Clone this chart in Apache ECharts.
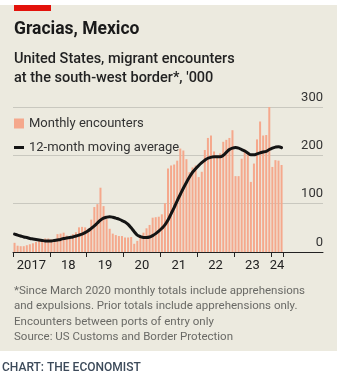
<!DOCTYPE html>
<html><head><meta charset="utf-8">
<script src="https://cdn.jsdelivr.net/npm/echarts@6/dist/echarts.min.js"></script>
<style>html,body{margin:0;padding:0;background:#fff}#c{width:340px;height:380px}</style>
</head><body><div id="c"></div>
<script>
// Year labels and their positions (in months from Jan 2017)
const yearLabels = ['2017', '18', '19', '20', '21', '22', '23', '24'];
const yearLabelPos = [6, 18, 30, 42, 54, 66, 78, 86];
const yearTickPos = [0, 12, 24, 36, 48, 60, 72, 84, 88];
const yTickValues = [0, 100, 200, 300];

// Monthly encounters, '000 (Jan 2017 - Apr 2024)
const enc2017 = [19, 13, 12, 12, 14, 16, 18, 21, 24, 26, 28, 28];
const enc2018 = [26, 27, 37, 38, 40, 34, 31, 37, 41, 51, 52, 51];
const enc2019 = [48, 67, 93, 99, 133, 95, 68, 48, 38, 35, 33, 33];
const enc2020 = [30, 30, 31, 17, 23, 31, 40, 49, 56, 71, 72, 73];
const enc2021 = [78, 101, 173, 179, 181, 189, 214, 210, 192, 165, 175, 179];
const enc2022 = [155, 166, 211, 236, 241, 208, 200, 204, 228, 232, 236, 252];
const enc2023 = [157, 157, 193, 212, 207, 145, 183, 233, 270, 241, 242, 302];
const enc2024 = [176, 190, 189, 180];

// 12-month moving average, '000
const avg2017 = [37, 35, 33, 31, 30, 28, 27, 26, 25, 24, 23, 23];
const avg2018 = [23, 24, 25, 26, 28, 29, 30, 31, 33, 35, 37, 40];
const avg2019 = [44, 49, 54, 60, 66, 70, 72, 73, 72, 70, 68, 65];
const avg2020 = [62, 57, 50, 42, 35, 32, 30, 30, 31, 34, 38, 43];
const avg2021 = [49, 56, 66, 79, 92, 106, 119, 132, 144, 155, 165, 172];
const avg2022 = [179, 185, 190, 194, 196, 197, 197, 197, 200, 206, 212, 215];
const avg2023 = [216, 215, 212, 209, 205, 201, 201, 203, 205, 207, 208, 212];
const avg2024 = [215, 217, 218, 216];

const monthly = [].concat(enc2017, enc2018, enc2019, enc2020, enc2021, enc2022, enc2023, enc2024);
const movingAvg = [].concat(avg2017, avg2018, avg2019, avg2020, avg2021, avg2022, avg2023, avg2024);

const FONT = 'Roboto, "Liberation Sans", sans-serif';
const chart = echarts.init(document.getElementById('c'), null, {renderer: 'canvas'});
chart.setOption({
  animation: false,
  backgroundColor: '#eceadf',
  textStyle: {fontFamily: FONT},
  graphic: [
    {type: 'rect', z: 0, silent: true, shape: {x: 0, y: 0, width: 340, height: 5}, style: {fill: '#ffffff'}},
    {type: 'rect', z: 0, silent: true, shape: {x: 0, y: 351, width: 340, height: 29}, style: {fill: '#ffffff'}},
    {type: 'rect', z: 0, silent: true, shape: {x: 337, y: 0, width: 3, height: 380}, style: {fill: '#ffffff'}},
    {type: 'rect', z: 1, silent: true, shape: {x: 14, y: 5, width: 37, height: 6}, style: {fill: '#e3120b'}}
  ],
  title: [
    {text: 'Gracias, Mexico', left: 14, top: 21, padding: 0,
     textStyle: {fontFamily: FONT, fontSize: 17.5, fontWeight: 'bold', color: '#1a1a1a'}},
    {text: "United States, migrant encounters\nat the south-west border*, '000", left: 14, top: 50, padding: 0,
     textStyle: {fontFamily: FONT, fontSize: 14.5, fontWeight: 500, color: '#222', lineHeight: 19}},
    {text: '*Since March 2020 monthly totals include apprehensions\nand expulsions. Prior totals include apprehensions only.\nEncounters between ports of entry only\nSource: US Customs and Border Protection',
     left: 14, top: 283, padding: 0,
     textStyle: {fontFamily: FONT, fontSize: 11.5, fontWeight: 'normal', color: '#6a6a66', lineHeight: 15.5}},
    {text: 'CHART: THE ECONOMIST', left: 2, top: 362, padding: 0,
     textStyle: {fontFamily: FONT, fontSize: 12, fontWeight: 500, color: '#3c4a5a'}}
  ],
  legend: {
    left: 14, top: 117, orient: 'vertical', padding: 0,
    itemWidth: 10, itemHeight: 10, itemGap: 11,
    textStyle: {fontFamily: FONT, fontSize: 13, color: '#333'},
    data: [
      {name: 'Monthly encounters', icon: 'rect'},
      {name: '12-month moving average', icon: 'path://M0,0M10,10M0,3.5L10,3.5L10,6.5L0,6.5Z'}
    ]
  },
  grid: {left: 13, right: 17, top: 107, bottom: 128},
  xAxis: {
    type: 'value', min: 0, max: 101,
    axisLine: {show: true, onZero: false, lineStyle: {color: '#222', width: 1}},
    axisTick: {show: true, customValues: yearTickPos, length: 5, lineStyle: {color: '#222', width: 1}},
    axisLabel: {
      customValues: yearLabelPos, margin: 7, fontSize: 13, color: '#222', fontFamily: FONT,
      formatter: v => yearLabels[yearLabelPos.indexOf(v)] || ''
    },
    splitLine: {show: false}
  },
  yAxis: {
    type: 'value', position: 'right', min: 0, max: 300, interval: 100,
    axisLine: {show: false}, axisTick: {show: false},
    splitLine: {lineStyle: {color: '#c9c8bf', width: 1}},
    axisLabel: {inside: true, margin: 0, verticalAlign: 'bottom', padding: [0, 0, 3, 0],
      fontSize: 13, color: '#333', fontFamily: FONT,
      formatter: v => yTickValues.includes(v) ? String(v) : ''}
  },
  series: [
    {name: 'Monthly encounters', type: 'bar', barWidth: 2, z: 2,
     itemStyle: {color: '#f5a88c'},
     data: monthly.map((v, i) => [i + 0.5, v])},
    {name: '12-month moving average', type: 'line', smooth: 0.4, symbol: 'none', showSymbol: false, z: 3,
     itemStyle: {color: '#141414'},
     lineStyle: {color: '#141414', width: 3, cap: 'round'},
     data: movingAvg.map((v, i) => [i + 0.5, v])}
  ]
});
</script>
</body></html>
